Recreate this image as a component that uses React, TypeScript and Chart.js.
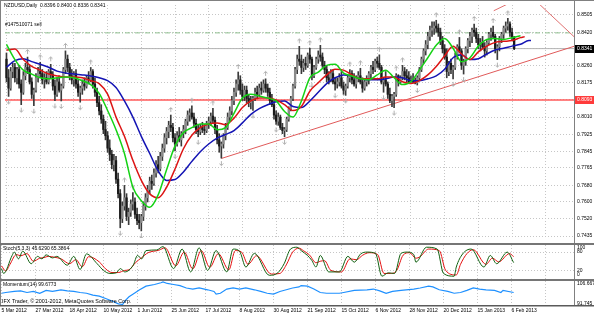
import React, { useEffect, useRef } from 'react';
import { Chart, registerables } from 'chart.js';

Chart.register(...registerables);

const FONT = '"Liberation Sans", Arial, sans-serif';
const GRID_COLOR = '#c6c6c6';
const FRAME_COLOR = '#808080';
const SEP_COLOR = '#767676';

const symbolTitle = 'NZDUSD,Daily';
const orderLabel = '#147510071 sell';
const copyright = 'IFX Trader, \u00a9 2001-2012, MetaQuotes Software Corp.';

// ---------- axes ----------
const X_MIN = -0.7;
const X_MAX = 269.4;
const PRICE_MIN = 0.742572;
const PRICE_MAX = 0.855176;

const dateTickBars = [0, 16, 32, 48, 64, 80, 96, 112, 128, 144, 160, 176, 192, 208, 224, 240, 256];
const dateLabels = ['5 Mar 2012', '27 Mar 2012', '18 Apr 2012', '10 May 2012', '1 Jun 2012', '25 Jun 2012', '17 Jul 2012', '8 Aug 2012', '30 Aug 2012', '21 Sep 2012', '15 Oct 2012', '6 Nov 2012', '28 Nov 2012', '20 Dec 2012', '15 Jan 2013', '6 Feb 2013', ''];

const priceTicks = [0.8505, 0.8420, 0.8340, 0.8260, 0.8175, 0.8093, 0.8010, 0.7925, 0.7845, 0.7765, 0.7680, 0.7600, 0.7520, 0.7435];
const priceTickLabels = ['0.8505', '0.8420', '', '0.8260', '0.8175', '', '0.8010', '0.7925', '0.7845', '0.7765', '0.7680', '0.7600', '0.7520', '0.7435'];

// ---------- price bars (daily, from 5 Mar 2012) ----------
const open = [
  0.8290,0.8200,0.8150,0.8230,0.8250,0.8200,0.8240,0.8170,0.8130,0.8210,
  0.8250,0.8240,0.8180,0.8120,0.8140,0.8200,0.8230,0.8220,0.8190,0.8200,
  0.8180,0.8230,0.8215,0.8160,0.8120,0.8180,0.8140,0.8160,0.8240,0.8290,
  0.8250,0.8210,0.8190,0.8220,0.8170,0.8130,0.8150,0.8170,0.8160,0.8200,
  0.8190,0.8230,0.8170,0.8130,0.8080,0.8040,0.8000,0.7950,0.7920,0.7860,
  0.7830,0.7780,0.7800,0.7710,0.7640,0.7520,0.7580,0.7620,0.7530,0.7550,
  0.7590,0.7600,0.7540,0.7510,0.7500,0.7530,0.7580,0.7620,0.7660,0.7700,
  0.7690,0.7740,0.7780,0.7760,0.7820,0.7860,0.7910,0.7940,0.7970,0.7960,
  0.7910,0.7880,0.7920,0.7900,0.7930,0.7950,0.7990,0.8020,0.8030,0.8010,
  0.7980,0.7950,0.7940,0.7960,0.7950,0.7945,0.7980,0.7990,0.8015,0.7995,
  0.7950,0.7900,0.7870,0.7880,0.7920,0.7960,0.8010,0.8040,0.8090,0.8130,
  0.8170,0.8190,0.8140,0.8110,0.8140,0.8100,0.8080,0.8090,0.8100,0.8130,
  0.8120,0.8150,0.8140,0.8170,0.8150,0.8130,0.8090,0.8070,0.8020,0.7990,
  0.8010,0.7960,0.7945,0.7950,0.8000,0.8050,0.8100,0.8160,0.8240,0.8290,
  0.8280,0.8250,0.8270,0.8260,0.8310,0.8290,0.8210,0.8250,0.8290,0.8310,
  0.8300,0.8260,0.8240,0.8200,0.8190,0.8220,0.8180,0.8170,0.8180,0.8200,
  0.8160,0.8140,0.8160,0.8200,0.8220,0.8190,0.8170,0.8200,0.8210,0.8180,
  0.8150,0.8180,0.8190,0.8220,0.8250,0.8240,0.8280,0.8270,0.8250,0.8180,
  0.8190,0.8170,0.8120,0.8090,0.8110,0.8120,0.8210,0.8180,0.8200,0.8230,
  0.8210,0.8200,0.8180,0.8190,0.8180,0.8175,0.8200,0.8240,0.8290,0.8330,
  0.8360,0.8400,0.8430,0.8440,0.8450,0.8440,0.8420,0.8380,0.8340,0.8300,
  0.8230,0.8270,0.8240,0.8250,0.8310,0.8350,0.8330,0.8260,0.8280,0.8340,
  0.8380,0.8400,0.8430,0.8420,0.8390,0.8360,0.8370,0.8350,0.8330,0.8370,
  0.8410,0.8420,0.8400,0.8340,0.8350,0.8390,0.8410,0.8440,0.8450,0.8460,
  0.8420,0.8396,
];
const high = [
  0.8320,0.8240,0.8250,0.8270,0.8270,0.8250,0.8260,0.8190,0.8230,0.8270,
  0.8300,0.8260,0.8200,0.8150,0.8220,0.8250,0.8275,0.8240,0.8220,0.8230,
  0.8240,0.8265,0.8230,0.8190,0.8200,0.8210,0.8170,0.8250,0.8330,0.8310,
  0.8270,0.8240,0.8230,0.8240,0.8190,0.8160,0.8190,0.8200,0.8210,0.8230,
  0.8250,0.8240,0.8200,0.8150,0.8110,0.8070,0.8020,0.7990,0.7940,0.7900,
  0.7850,0.7830,0.7820,0.7740,0.7660,0.7600,0.7680,0.7640,0.7570,0.7610,
  0.7645,0.7620,0.7570,0.7540,0.7540,0.7600,0.7640,0.7680,0.7720,0.7730,
  0.7760,0.7800,0.7820,0.7840,0.7880,0.7930,0.7960,0.7990,0.8020,0.7980,
  0.7930,0.7940,0.7960,0.7940,0.7970,0.8000,0.8040,0.8050,0.8065,0.8030,
  0.8000,0.7970,0.7975,0.7985,0.7975,0.7990,0.8010,0.8030,0.8052,0.8010,
  0.7970,0.7930,0.7890,0.7930,0.7980,0.8030,0.8060,0.8110,0.8150,0.8190,
  0.8228,0.8210,0.8170,0.8160,0.8160,0.8120,0.8110,0.8110,0.8150,0.8160,
  0.8170,0.8180,0.8190,0.8195,0.8170,0.8150,0.8120,0.8090,0.8040,0.8030,
  0.8020,0.7980,0.7960,0.8010,0.8060,0.8110,0.8170,0.8250,0.8310,0.8352,
  0.8310,0.8290,0.8300,0.8320,0.8343,0.8300,0.8260,0.8300,0.8330,0.8357,
  0.8320,0.8280,0.8260,0.8230,0.8240,0.8240,0.8200,0.8200,0.8220,0.8230,
  0.8180,0.8170,0.8210,0.8240,0.8235,0.8220,0.8210,0.8230,0.8246,0.8200,
  0.8190,0.8210,0.8230,0.8260,0.8280,0.8290,0.8300,0.8311,0.8260,0.8200,
  0.8230,0.8180,0.8150,0.8120,0.8130,0.8220,0.8215,0.8210,0.8260,0.8250,
  0.8240,0.8230,0.8210,0.8220,0.8200,0.8210,0.8250,0.8300,0.8340,0.8380,
  0.8420,0.8450,0.8470,0.8470,0.8478,0.8460,0.8440,0.8400,0.8360,0.8340,
  0.8280,0.8290,0.8260,0.8320,0.8360,0.8395,0.8340,0.8290,0.8350,0.8390,
  0.8420,0.8440,0.8460,0.8440,0.8410,0.8390,0.8400,0.8370,0.8380,0.8420,
  0.8440,0.8450,0.8410,0.8360,0.8400,0.8420,0.8450,0.8470,0.8487,0.8470,
  0.8440,0.8400,
];
const low = [
  0.8180,0.8110,0.8140,0.8200,0.8180,0.8170,0.8150,0.8070,0.8120,0.8190,
  0.8220,0.8170,0.8100,0.8065,0.8130,0.8180,0.8200,0.8170,0.8150,0.8170,
  0.8170,0.8200,0.8140,0.8090,0.8110,0.8130,0.8088,0.8150,0.8220,0.8230,
  0.8190,0.8170,0.8160,0.8150,0.8110,0.8082,0.8120,0.8140,0.8150,0.8170,
  0.8180,0.8150,0.8110,0.8060,0.8020,0.7980,0.7930,0.7900,0.7840,0.7800,
  0.7760,0.7750,0.7690,0.7620,0.7475,0.7500,0.7560,0.7510,0.7490,0.7530,
  0.7560,0.7520,0.7490,0.7470,0.7460,0.7510,0.7560,0.7600,0.7640,0.7660,
  0.7680,0.7720,0.7740,0.7750,0.7800,0.7840,0.7880,0.7910,0.7940,0.7890,
  0.7847,0.7870,0.7890,0.7870,0.7910,0.7930,0.7970,0.7990,0.8000,0.7960,
  0.7930,0.7915,0.7925,0.7935,0.7925,0.7935,0.7955,0.7970,0.7980,0.7930,
  0.7880,0.7840,0.7812,0.7860,0.7900,0.7950,0.7990,0.8020,0.8070,0.8110,
  0.8140,0.8120,0.8090,0.8090,0.8080,0.8060,0.8050,0.8042,0.8090,0.8100,
  0.8110,0.8120,0.8130,0.8130,0.8110,0.8070,0.8060,0.8000,0.7975,0.7970,
  0.7950,0.7930,0.7915,0.7940,0.7990,0.8040,0.8090,0.8150,0.8220,0.8260,
  0.8220,0.8230,0.8240,0.8250,0.8270,0.8190,0.8200,0.8240,0.8270,0.8280,
  0.8250,0.8220,0.8180,0.8170,0.8180,0.8170,0.8140,0.8150,0.8160,0.8150,
  0.8120,0.8115,0.8150,0.8180,0.8170,0.8160,0.8150,0.8180,0.8170,0.8130,
  0.8140,0.8160,0.8170,0.8200,0.8220,0.8230,0.8250,0.8240,0.8170,0.8130,
  0.8160,0.8100,0.8080,0.8060,0.8056,0.8110,0.8160,0.8170,0.8190,0.8190,
  0.8180,0.8175,0.8175,0.8175,0.8170,0.8165,0.8190,0.8230,0.8270,0.8310,
  0.8340,0.8380,0.8400,0.8410,0.8420,0.8400,0.8360,0.8320,0.8290,0.8200,
  0.8210,0.8220,0.8195,0.8240,0.8290,0.8320,0.8240,0.8218,0.8260,0.8320,
  0.8350,0.8370,0.8400,0.8370,0.8340,0.8330,0.8340,0.8300,0.8310,0.8360,
  0.8380,0.8390,0.8320,0.8288,0.8330,0.8370,0.8390,0.8420,0.8430,0.8400,
  0.8380,0.8336,
];
const close = [
  0.8200,0.8150,0.8230,0.8250,0.8200,0.8240,0.8170,0.8130,0.8210,0.8250,
  0.8240,0.8180,0.8120,0.8140,0.8200,0.8230,0.8220,0.8190,0.8200,0.8180,
  0.8230,0.8215,0.8160,0.8120,0.8180,0.8140,0.8160,0.8240,0.8290,0.8250,
  0.8210,0.8190,0.8220,0.8170,0.8130,0.8150,0.8170,0.8160,0.8200,0.8190,
  0.8230,0.8170,0.8130,0.8080,0.8040,0.8000,0.7950,0.7920,0.7860,0.7830,
  0.7780,0.7800,0.7710,0.7640,0.7520,0.7580,0.7620,0.7530,0.7550,0.7590,
  0.7600,0.7540,0.7510,0.7500,0.7530,0.7580,0.7620,0.7660,0.7700,0.7690,
  0.7740,0.7780,0.7760,0.7820,0.7860,0.7910,0.7940,0.7970,0.7960,0.7910,
  0.7880,0.7920,0.7900,0.7930,0.7950,0.7990,0.8020,0.8030,0.8010,0.7980,
  0.7950,0.7940,0.7960,0.7950,0.7945,0.7980,0.7990,0.8015,0.7995,0.7950,
  0.7900,0.7870,0.7880,0.7920,0.7960,0.8010,0.8040,0.8090,0.8130,0.8170,
  0.8190,0.8140,0.8110,0.8140,0.8100,0.8080,0.8090,0.8100,0.8130,0.8120,
  0.8150,0.8140,0.8170,0.8150,0.8130,0.8090,0.8070,0.8020,0.7990,0.8010,
  0.7960,0.7945,0.7950,0.8000,0.8050,0.8100,0.8160,0.8240,0.8290,0.8280,
  0.8250,0.8270,0.8260,0.8310,0.8290,0.8210,0.8250,0.8290,0.8310,0.8300,
  0.8260,0.8240,0.8200,0.8190,0.8220,0.8180,0.8170,0.8180,0.8200,0.8160,
  0.8140,0.8160,0.8200,0.8220,0.8190,0.8170,0.8200,0.8210,0.8180,0.8150,
  0.8180,0.8190,0.8220,0.8250,0.8240,0.8280,0.8270,0.8250,0.8180,0.8190,
  0.8170,0.8120,0.8090,0.8110,0.8120,0.8210,0.8180,0.8200,0.8230,0.8210,
  0.8200,0.8180,0.8190,0.8180,0.8175,0.8200,0.8240,0.8290,0.8330,0.8360,
  0.8400,0.8430,0.8440,0.8450,0.8440,0.8420,0.8380,0.8340,0.8300,0.8230,
  0.8270,0.8240,0.8250,0.8310,0.8350,0.8330,0.8260,0.8280,0.8340,0.8380,
  0.8400,0.8430,0.8420,0.8390,0.8360,0.8370,0.8350,0.8330,0.8370,0.8410,
  0.8420,0.8400,0.8340,0.8350,0.8390,0.8410,0.8440,0.8450,0.8460,0.8420,
  0.8396,0.8341,
];

// Bill Williams fractals (bar indexes)
const fractalUpBars = [10, 16, 21, 28, 40, 56, 60, 78, 88, 98, 110, 123, 139, 144, 149, 163, 168, 177, 185, 188, 204, 215, 222, 231, 238];
const fractalDownBars = [1, 7, 13, 23, 26, 35, 54, 64, 80, 91, 102, 117, 128, 132, 145, 156, 161, 179, 184, 195, 212, 217, 233];

// Alligator lines, read every 4 bars (shifted lines run past the last bar)
const ALIG_STEP = 4;
const lipsLastBar = 244;
const teethLastBar = 246;
const jawLastBar = 249;
const lips = [
  0.8362,0.8288,0.8237,0.8218,0.8200,0.8195,0.8200,0.8204,0.8200,0.8186,
  0.8167,0.8125,0.8042,0.7949,0.7834,0.7671,0.7606,0.7574,0.7634,0.7755,
  0.7871,0.7935,0.7959,0.7977,0.7977,0.7949,0.7959,0.8028,0.8102,0.8121,
  0.8112,0.8102,0.8088,0.8037,0.8010,0.8088,0.8200,0.8227,0.8260,0.8265,
  0.8223,0.8209,0.8195,0.8190,0.8214,0.8237,0.8200,0.8167,0.8181,0.8237,
  0.8297,0.8357,0.8390,0.8343,0.8278,0.8297,0.8353,0.8385,0.8390,0.8385,
  0.8394,0.8403,
];
const teeth = [
  0.8334,0.8339,0.8288,0.8255,0.8237,0.8218,0.8209,0.8204,0.8204,0.8200,
  0.8186,0.8172,0.8121,0.8010,0.7917,0.7801,0.7704,0.7639,0.7620,0.7671,
  0.7759,0.7857,0.7922,0.7959,0.7977,0.7982,0.7973,0.8005,0.8056,0.8088,
  0.8102,0.8102,0.8093,0.8070,0.8042,0.8061,0.8135,0.8176,0.8214,0.8241,
  0.8237,0.8214,0.8195,0.8195,0.8195,0.8204,0.8204,0.8181,0.8172,0.8186,
  0.8214,0.8255,0.8306,0.8353,0.8315,0.8288,0.8325,0.8353,0.8371,0.8376,
  0.8380,0.8394,0.8399,
];
const jaw = [
  0.8251,0.8283,0.8292,0.8278,0.8265,0.8251,0.8232,0.8223,0.8218,0.8214,
  0.8209,0.8200,0.8186,0.8153,0.8088,0.8010,0.7917,0.7834,0.7750,0.7704,
  0.7708,0.7745,0.7796,0.7843,0.7880,0.7908,0.7926,0.7945,0.7982,0.8023,
  0.8051,0.8070,0.8084,0.8088,0.8061,0.8056,0.8088,0.8130,0.8172,0.8200,
  0.8214,0.8209,0.8195,0.8190,0.8190,0.8195,0.8204,0.8200,0.8186,0.8186,
  0.8195,0.8209,0.8241,0.8297,0.8311,0.8288,0.8292,0.8315,0.8334,0.8343,
  0.8353,0.8362,0.8380,0.8380,
];

// Levels & trend lines
const supportLevel = 0.8093;
const lastPrice = 0.8341;
const sellOrderPrice = 0.8417;
const upTrendBars = [102, 270];
const upTrendVals = [0.7810, 0.8354];
const downTrendBars = [250, 270];
const downTrendVals = [0.8584, 0.8393];
const topTrendBars = [231.3, 240];
const topTrendVals = [0.8524, 0.8567];

// Stochastic (5,3,3)
const stochLastK = 45.6290;
const stochLastD = 65.3864;
const stochKBars = [0,1,5,6,8,10,14,17,19,21,24,26,31,34,37,40,45,48,51,54,56,58,62,64,66,68,73,76,81,85,89,93,97,101,106,109,112,115,119,126,130,133,136,139,141,144,146,148,150,154,159,163,166,169,172,176,179,182,185,188,191,194,195,200,205,208,213,214,217,221,227,230,233,238,241];
const stochK = [26,10,69,80,58,83,42,66,58,71,61,66,37,66,23,74,42,20,10,12,26,15,37,69,58,85,87,98,26,90,15,94,20,85,15,90,83,31,76,4,12,42,90,96,85,69,53,31,69,15,15,66,47,74,80,76,1,12,10,76,80,72,47,96,90,10,1,31,74,90,31,69,42,80,45.63];
const stochDBars = [0,2,4,7,9,12,15,18,20,22,25,28,32,35,38,41,46,49,52,55,58,60,63,66,69,74,77,82,86,90,94,98,102,107,110,113,116,120,127,131,134,137,140,142,145,148,150,152,155,160,164,167,170,173,177,180,183,186,189,192,195,197,201,206,209,214,216,219,222,228,231,234,239,241];
const stochD = [35,18,40,72,68,75,50,60,62,66,63,58,42,55,32,65,48,25,13,13,20,22,45,62,78,86,94,35,80,25,85,30,75,22,85,80,40,68,8,10,38,80,93,85,70,45,50,52,20,15,58,55,70,78,72,10,10,20,70,78,60,65,90,85,20,5,40,75,88,40,60,48,75,65.39];
const STOCH_MIN = -8.2;
const STOCH_MAX = 103.3;

// Momentum (14)
const momLast = 99.6773;
const momTop = 106.667;
const momBottom = 91.745;
const momBars = [0,2,6,9,12,15,18,21,24,28,31,34,37,40,43,46,49,52,55,57,58,60,62,65,68,72,75,76,78,81,84,87,90,93,97,100,101,103,106,109,112,115,119,122,125,128,131,134,137,140,141,144,147,150,153,159,161,166,172,175,178,181,184,188,194,197,201,203,206,210,213,216,219,222,225,228,232,235,236,241];
const momVals = [99.2,99.7,100.4,100.8,99.7,100.4,99.2,101.1,100.4,101.5,100.8,100.4,99.7,99.2,98.0,97.3,95.7,94.1,92.2,91.75,94.0,96.9,98.7,101.5,103.9,105.0,106.2,106.67,105.7,105.0,104.3,102.7,102.0,102.7,101.5,100.4,98.7,99.2,102.0,102.7,102.0,102.7,101.5,100.4,99.2,98.7,100.4,101.5,102.7,103.4,104.3,103.9,102.0,99.7,99.2,99.2,99.7,101.1,101.5,102.0,100.8,99.2,100.4,101.1,102.0,102.7,103.9,103.4,101.5,100.4,99.2,99.7,101.1,102.7,102.0,101.5,101.1,99.7,101.1,99.68];
const MOM_MIN = 91.413;
const MOM_MAX = 107.33;

// ---------- helpers ----------
function makeXScale(showLabels: boolean): any {
  return {
    type: 'linear',
    min: X_MIN,
    max: X_MAX,
    offset: false,
    afterBuildTicks: (s: any) => {
      s.ticks = dateTickBars.map((v) => ({ value: v }));
    },
    afterFit: (s: any) => {
      s.paddingLeft = 0;
      s.paddingRight = 0;
      s.height = showLabels ? 11 : 0;
    },
    ticks: {
      display: showLabels,
      autoSkip: false,
      maxRotation: 0,
      minRotation: 0,
      align: 'start',
      padding: 3,
      color: '#000',
      font: { family: FONT, size: 5 },
      callback: (_v: any, i: number) => dateLabels[i] ?? '',
    },
    grid: { display: true, offset: false, drawTicks: false, color: GRID_COLOR, lineWidth: 1 },
    border: { display: false, dash: [1, 2] },
  };
}

function makeArrow(up: boolean): HTMLCanvasElement {
  const c = document.createElement('canvas');
  c.width = 5;
  c.height = 22;
  const g = c.getContext('2d') as CanvasRenderingContext2D;
  g.strokeStyle = '#b0b0b0';
  g.lineWidth = 1;
  g.beginPath();
  if (up) {
    g.moveTo(0.5, 5.5);
    g.lineTo(2.5, 3.5);
    g.lineTo(4.5, 5.5);
    g.moveTo(2.5, 3.5);
    g.lineTo(2.5, 8);
  } else {
    g.moveTo(0.5, 16.5);
    g.lineTo(2.5, 18.5);
    g.lineTo(4.5, 16.5);
    g.moveTo(2.5, 18.5);
    g.lineTo(2.5, 14);
  }
  g.stroke();
  return c;
}

function lineDs(label: string, data: any[], color: string, width: number, extra: any = {}): any {
  return {
    type: 'line',
    label,
    data,
    borderColor: color,
    borderWidth: width,
    pointRadius: 0,
    fill: false,
    ...extra,
  };
}

const baseOptions: any = {
  responsive: false,
  maintainAspectRatio: false,
  animation: false,
  devicePixelRatio: 1,
  events: [],
  layout: { padding: 0 },
  plugins: { legend: { display: false }, tooltip: { enabled: false } },
};

export default function App() {
  const mainRef = useRef<HTMLCanvasElement>(null);
  const stoRef = useRef<HTMLCanvasElement>(null);
  const momRef = useRef<HTMLCanvasElement>(null);

  useEffect(() => {
    document.body.style.margin = '0';
    const charts: Chart[] = [];
    const idx = close.map((_, i) => i);
    const upArrow = makeArrow(true);
    const downArrow = makeArrow(false);
    const N = close.length;
    const mainTitle = `${symbolTitle}  ${open[N - 1].toFixed(4)} ${high[N - 1].toFixed(4)} ${low[N - 1].toFixed(4)} ${close[N - 1].toFixed(4)}`;

    // ---------- main price chart ----------
    const mainOverlay = {
      id: 'mainOverlay',
      afterDraw(chart: any) {
        const { ctx, chartArea, scales } = chart;
        ctx.save();
        ctx.strokeStyle = FRAME_COLOR;
        ctx.lineWidth = 1;
        ctx.beginPath();
        ctx.moveTo(chartArea.right + 0.5, 0);
        ctx.lineTo(chartArea.right + 0.5, chart.height);
        ctx.moveTo(0.5, 0);
        ctx.lineTo(0.5, chart.height);
        ctx.moveTo(0, 0.5);
        ctx.lineTo(chart.width, 0.5);
        ctx.stroke();
        ctx.font = `5px ${FONT}`;
        ctx.textBaseline = 'middle';
        ctx.textAlign = 'left';
        ctx.fillStyle = '#000';
        ctx.fillText(mainTitle, 4, 6);
        ctx.fillText(orderLabel, 5, 25);
        const yb = scales.y.getPixelForValue(lastPrice);
        ctx.fillStyle = '#000';
        ctx.fillRect(chartArea.right + 1, Math.round(yb) - 4, 20, 8);
        ctx.fillStyle = '#fff';
        ctx.fillText(lastPrice.toFixed(4), chartArea.right + 3, yb);
        const yr = scales.y.getPixelForValue(supportLevel);
        ctx.fillStyle = '#ff3b3b';
        ctx.fillRect(chartArea.right + 1, Math.round(yr) - 4, 20, 8);
        ctx.fillStyle = '#fff';
        ctx.fillText(supportLevel.toFixed(4), chartArea.right + 3, yr);
        ctx.restore();
      },
    };

    const mainChart = new Chart(mainRef.current as HTMLCanvasElement, {
      type: 'line',
      data: {
        datasets: [
          lineDs('sell', [{ x: X_MIN, y: sellOrderPrice }, { x: X_MAX, y: sellOrderPrice }], '#8fbf8f', 1, { borderDash: [5, 2, 1, 2], order: 20 }),
          lineDs('bid', [{ x: X_MIN, y: lastPrice }, { x: X_MAX, y: lastPrice }], '#b4b4b4', 1, { order: 19 }),
          lineDs('support', [{ x: X_MIN, y: supportLevel }, { x: X_MAX, y: supportLevel }], '#ff5a5a', 1.6, { order: 18 }),
          lineDs('upTrend', upTrendBars.map((b, i) => ({ x: b, y: upTrendVals[i] })), '#e05a5a', 1, { order: 17 }),
          lineDs('downTrend', downTrendBars.map((b, i) => ({ x: b, y: downTrendVals[i] })), '#e07070', 1, { order: 17 }),
          lineDs('topTrend', topTrendBars.map((b, i) => ({ x: b, y: topTrendVals[i] })), '#e07070', 1, { order: 17 }),
          {
            type: 'bar',
            label: 'wick',
            data: idx.map((i) => ({ x: i, y: [low[i], high[i]] })),
            backgroundColor: '#3a3a3a',
            borderWidth: 0,
            grouped: false,
            barThickness: 1,
            maxBarThickness: 1,
            order: 11,
          },
          {
            type: 'bar',
            label: 'body',
            data: idx.map((i) => ({ x: i, y: [open[i], close[i]] })),
            backgroundColor: idx.map((i) => (close[i] >= open[i] ? '#8a8a8a' : '#1a1a1a')),
            borderWidth: 0,
            grouped: false,
            barThickness: 1.6,
            maxBarThickness: 1.6,
            order: 10,
          },
          {
            type: 'scatter',
            label: 'fractalUp',
            data: fractalUpBars.map((b) => ({ x: b, y: high[b] })),
            pointStyle: upArrow,
            pointRadius: 3,
            showLine: false,
            order: 9,
          },
          {
            type: 'scatter',
            label: 'fractalDown',
            data: fractalDownBars.map((b) => ({ x: b, y: low[b] })),
            pointStyle: downArrow,
            pointRadius: 3,
            showLine: false,
            order: 9,
          },
          lineDs('jaw', jaw.map((v, i) => ({ x: Math.min(i * ALIG_STEP, jawLastBar), y: v })), '#1414b4', 1.5, { cubicInterpolationMode: 'monotone', order: 3 }),
          lineDs('teeth', teeth.map((v, i) => ({ x: Math.min(i * ALIG_STEP, teethLastBar), y: v })), '#dc1414', 1.5, { cubicInterpolationMode: 'monotone', order: 2 }),
          lineDs('lips', lips.map((v, i) => ({ x: Math.min(i * ALIG_STEP, lipsLastBar), y: v })), '#14d214', 1.5, { cubicInterpolationMode: 'monotone', order: 1 }),
        ],
      },
      options: {
        ...baseOptions,
        scales: {
          x: makeXScale(false),
          y: {
            type: 'linear',
            position: 'right',
            min: PRICE_MIN,
            max: PRICE_MAX,
            stacked: false,
            afterBuildTicks: (s: any) => {
              s.ticks = priceTicks.map((v) => ({ value: v }));
            },
            afterFit: (s: any) => {
              s.width = 20;
              s.paddingTop = 0;
              s.paddingBottom = 0;
            },
            ticks: {
              autoSkip: false,
              padding: 3,
              color: '#000',
              font: { family: FONT, size: 5 },
              callback: (_v: any, i: number) => priceTickLabels[i],
            },
            grid: { drawTicks: false, color: GRID_COLOR, lineWidth: 1 },
            border: { display: false, dash: [1, 2] },
          },
        },
      },
      plugins: [mainOverlay],
    } as any);
    charts.push(mainChart);

    // ---------- stochastic ----------
    const stoOverlay = {
      id: 'stoOverlay',
      afterDraw(chart: any) {
        const { ctx, chartArea } = chart;
        ctx.save();
        ctx.strokeStyle = FRAME_COLOR;
        ctx.lineWidth = 1;
        ctx.beginPath();
        ctx.moveTo(chartArea.right + 0.5, 0);
        ctx.lineTo(chartArea.right + 0.5, chart.height);
        ctx.moveTo(0.5, 0);
        ctx.lineTo(0.5, chart.height);
        ctx.stroke();
        ctx.font = `5px ${FONT}`;
        ctx.textBaseline = 'middle';
        ctx.textAlign = 'left';
        ctx.fillStyle = '#000';
        ctx.fillText(`Stoch(5,3,3) ${stochLastK.toFixed(4)} ${stochLastD.toFixed(4)}`, 3, 4);
        const lx = chartArea.right + 3;
        ctx.fillText('100', lx, 2.5);
        ctx.fillText('80', lx, 6.5);
        ctx.fillText('20', lx, 25.5);
        ctx.fillText('0', lx, 29.5);
        ctx.restore();
      },
    };
    const stoChart = new Chart(stoRef.current as HTMLCanvasElement, {
      type: 'line',
      data: {
        datasets: [
          lineDs('signal', stochDBars.map((b, i) => ({ x: b, y: stochD[i] })), '#e41010', 1, { cubicInterpolationMode: 'monotone', order: 2 }),
          lineDs('main', stochKBars.map((b, i) => ({ x: b, y: stochK[i] })), '#106010', 1, { cubicInterpolationMode: 'monotone', order: 1 }),
        ],
      },
      options: {
        ...baseOptions,
        scales: {
          x: makeXScale(false),
          y: {
            type: 'linear',
            position: 'right',
            min: STOCH_MIN,
            max: STOCH_MAX,
            afterBuildTicks: (s: any) => {
              s.ticks = [{ value: 20 }, { value: 80 }];
            },
            afterFit: (s: any) => {
              s.width = 20;
              s.paddingTop = 0;
              s.paddingBottom = 0;
            },
            ticks: { display: false },
            grid: { drawTicks: false, color: GRID_COLOR, lineWidth: 1 },
            border: { display: false, dash: [1, 2] },
          },
        },
      },
      plugins: [stoOverlay],
    } as any);
    charts.push(stoChart);

    // ---------- momentum ----------
    const momOverlay = {
      id: 'momOverlay',
      afterDraw(chart: any) {
        const { ctx, chartArea } = chart;
        ctx.save();
        ctx.strokeStyle = FRAME_COLOR;
        ctx.lineWidth = 1;
        ctx.beginPath();
        ctx.moveTo(chartArea.right + 0.5, 0);
        ctx.lineTo(chartArea.right + 0.5, chartArea.bottom);
        ctx.moveTo(0.5, 0);
        ctx.lineTo(0.5, chartArea.bottom);
        ctx.stroke();
        ctx.fillStyle = '#5a5a5a';
        ctx.fillRect(0, chartArea.bottom, chart.width, 1.5);
        ctx.font = `5px ${FONT}`;
        ctx.textBaseline = 'middle';
        ctx.textAlign = 'left';
        ctx.fillStyle = '#000';
        ctx.fillText(`Momentum(14) ${momLast.toFixed(4)}`, 3, 3.5);
        const lx = chartArea.right + 3;
        ctx.fillText(momTop.toFixed(3), lx, 2.5);
        ctx.fillText(momBottom.toFixed(3), lx, 22.5);
        ctx.font = `5.4px ${FONT}`;
        ctx.fillText(copyright, 2, 20.5);
        ctx.restore();
      },
    };
    const momChart = new Chart(momRef.current as HTMLCanvasElement, {
      type: 'line',
      data: {
        datasets: [
          lineDs('momentum', momBars.map((b, i) => ({ x: b, y: momVals[i] })), '#1e90ff', 1.2),
        ],
      },
      options: {
        ...baseOptions,
        scales: {
          x: makeXScale(true),
          y: {
            type: 'linear',
            position: 'right',
            min: MOM_MIN,
            max: MOM_MAX,
            afterFit: (s: any) => {
              s.width = 20;
              s.paddingTop = 0;
              s.paddingBottom = 0;
            },
            ticks: { display: false },
            grid: { display: false, drawTicks: false },
            border: { display: false },
          },
        },
      },
      plugins: [momOverlay],
    } as any);
    charts.push(momChart);

    return () => {
      charts.forEach((c) => c.destroy());
    };
  }, []);

  return (
    <div style={{ position: 'relative', width: 594, height: 316, background: '#fff', overflow: 'hidden' }}>
      <canvas ref={mainRef} width={594} height={243} style={{ position: 'absolute', left: 0, top: 0, width: 594, height: 243 }} />
      <div style={{ position: 'absolute', left: 0, top: 243, width: 594, height: 2, background: SEP_COLOR }} />
      <canvas ref={stoRef} width={594} height={34} style={{ position: 'absolute', left: 0, top: 245, width: 594, height: 34 }} />
      <div style={{ position: 'absolute', left: 0, top: 279, width: 594, height: 2, background: SEP_COLOR }} />
      <canvas ref={momRef} width={594} height={35} style={{ position: 'absolute', left: 0, top: 281, width: 594, height: 35 }} />
    </div>
  );
}
